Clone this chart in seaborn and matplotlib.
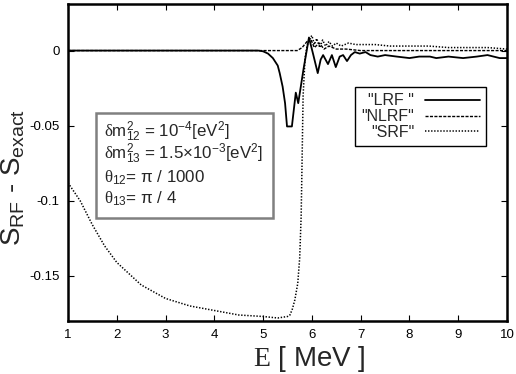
import matplotlib
matplotlib.use("Agg")
import matplotlib.pyplot as plt
import seaborn as sns
import pandas as pd
from matplotlib.patches import Rectangle

# ---- data ----
lrf_E = [1.0, 4.9, 5.0, 5.1, 5.2, 5.3, 5.34, 5.4, 5.45, 5.49, 5.59, 5.67, 5.72,
         5.83, 5.94, 6.03, 6.12, 6.18, 6.23, 6.33, 6.41, 6.49, 6.57, 6.64, 6.72,
         6.80, 6.88, 6.98, 7.1, 7.2, 7.35, 7.5, 7.74, 8.0, 8.2, 8.42, 8.55, 8.8,
         9.1, 9.38, 9.6, 9.85, 10.0]
lrf_S = [0.0, 0.0, -0.0005, -0.002, -0.005, -0.010, -0.015, -0.024, -0.035, -0.0505,
         -0.0505, -0.028, -0.035, -0.012, 0.0087, -0.003, -0.015, -0.006, -0.003,
         -0.009, -0.003, -0.011, -0.004, -0.003, -0.007, -0.003, -0.001, -0.002,
         -0.001, -0.003, -0.004, -0.003, -0.004, -0.005, -0.004, -0.004, -0.005,
         -0.004, -0.005, -0.004, -0.003, -0.005, -0.005]

nlrf_E = [1.0, 5.7, 5.8, 5.9, 5.97, 6.05, 6.15, 6.25, 6.35, 6.5, 6.7, 7.0, 8.0, 9.0, 10.0]
nlrf_S = [0.0, 0.0, 0.002, 0.006, 0.008, 0.002, 0.005, 0.001, 0.003, 0.001, 0.001,
          0.0, 0.0, 0.0, 0.0]

srf_E = [1.0, 1.25, 1.5, 1.75, 2.0, 2.5, 3.0, 3.5, 4.0, 4.5, 5.0, 5.3, 5.5, 5.55,
         5.6, 5.65, 5.71, 5.75, 5.78, 5.8, 5.82, 5.86, 5.9, 5.95, 6.0, 6.05, 6.1,
         6.16, 6.22, 6.28, 6.35, 6.42, 6.5, 6.6, 6.75, 6.9, 7.1, 7.3, 7.6, 8.0,
         8.4, 8.8, 9.2, 9.6, 10.0]
srf_S = [-0.088, -0.100, -0.116, -0.130, -0.141, -0.156, -0.165, -0.170, -0.173,
         -0.176, -0.177, -0.178, -0.177, -0.176, -0.172, -0.166, -0.155, -0.138,
         -0.110, -0.071, -0.030, -0.005, 0.003, 0.008, 0.010, 0.004, 0.008, 0.002,
         0.007, 0.003, 0.006, 0.003, 0.005, 0.003, 0.005, 0.004, 0.004, 0.004,
         0.003, 0.003, 0.003, 0.002, 0.002, 0.002, 0.001]

x_ticks = [1, 2, 3, 4, 5, 6, 7, 8, 9, 10]
y_ticks = [0, -0.05, -0.1, -0.15]
y_tick_labels = ["0", "-0.05", "-0.1", "-0.15"]

series_names = ['"LRF "', '"NLRF"', '"SRF"']

# ---- style ----
sns.set_style("ticks")
plt.rcParams["font.family"] = ["Liberation Sans", "DejaVu Sans"]
plt.rcParams["mathtext.fontset"] = "custom"
plt.rcParams["mathtext.rm"] = "Liberation Sans"
plt.rcParams["mathtext.it"] = "Liberation Sans:italic"
plt.rcParams["mathtext.sf"] = "Liberation Serif"

fig = plt.figure(figsize=(5.16, 3.74), dpi=100)
ax = fig.add_axes([68 / 516, 1 - 321 / 374, (507 - 68) / 516, (321 - 4) / 374])

df_l = pd.DataFrame({"E": lrf_E, "S": lrf_S})
df_n = pd.DataFrame({"E": nlrf_E, "S": nlrf_S})
df_s = pd.DataFrame({"E": srf_E, "S": srf_S})

sns.lineplot(data=df_l, x="E", y="S", ax=ax, color="black", lw=1.3,
             sort=False, estimator=None, label=series_names[0])
sns.lineplot(data=df_n, x="E", y="S", ax=ax, color="black", lw=1.0,
             sort=False, estimator=None, label=series_names[1], dashes=False)
sns.lineplot(data=df_s, x="E", y="S", ax=ax, color="black", lw=1.1,
             sort=False, estimator=None, label=series_names[2], dashes=False)
lines = ax.get_lines()
lines[1].set_dashes([2.2, 1.0])
lines[2].set_dashes([0.9, 1.1])

ax.set_xlim(1, 10)
ax.set_ylim(-0.18, 0.031)
ax.set_xticks(x_ticks)
ax.set_xticklabels([str(t) for t in x_ticks])
ax.set_yticks(y_ticks)
ax.set_yticklabels(y_tick_labels)
ax.tick_params(direction="in", length=4, width=0.8, top=True, right=True,
               labelsize=9.5, colors="black", pad=6)
for sp in ax.spines.values():
    sp.set_visible(True)
    sp.set_linewidth(1.8)
    sp.set_color("black")

ax.set_xlabel("")
ax.set_ylabel("")
fig.text(309 / 516, 1 - 366 / 374, r"$\mathsf{E}$ [ MeV ]", ha="center",
         va="baseline", fontsize=20)
fig.text(13 / 516, 1 - 177 / 374, r"S$_{\mathrm{RF}}$ - S$_{\mathrm{exact}}$",
         ha="center", va="center", rotation=90, fontsize=20)

leg = ax.legend(loc="upper left", bbox_to_anchor=(0.654, 0.738), frameon=True,
                fancybox=False, edgecolor="black", framealpha=1, fontsize=11.5,
                markerfirst=False, handlelength=3.4, handletextpad=0.7,
                labelspacing=0.05, borderpad=0.4, borderaxespad=0)
leg.get_frame().set_linewidth(1.0)

# parameter box
box = Rectangle((96 / 516, 1 - 218 / 374), (273 - 96) / 516, (218 - 113) / 374,
                transform=fig.transFigure, facecolor="white", edgecolor="#808080",
                linewidth=1.8, zorder=5)
fig.patches.append(box)
txts = [r"$\mathsf{δ}\mathrm{m}^{2}_{12}$ = 10$^{-4}$[eV$^{2}$]",
        r"$\mathsf{δ}\mathrm{m}^{2}_{13}$ = 1.5×10$^{-3}$[eV$^{2}$]",
        r"$\mathsf{θ}_{12}$= π / 1000",
        r"$\mathsf{θ}_{13}$= π / 4"]
baselines = [137, 159, 182, 203]
for t, b in zip(txts, baselines):
    fig.text(104 / 516, 1 - b / 374, t, ha="left", va="baseline", fontsize=12.2,
             zorder=6)

fig.savefig("out.png", dpi=100)
